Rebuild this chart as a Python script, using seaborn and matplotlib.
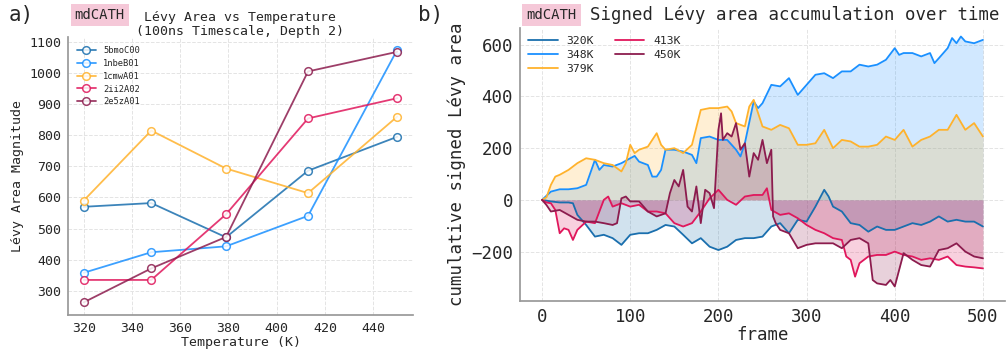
import matplotlib
matplotlib.use("Agg")
import matplotlib.pyplot as plt
import seaborn as sns
import pandas as pd

# ---------------- data: left panel ----------------
temperatures = [320, 348, 379, 413, 450]
domains = ["5bmoC00", "1nbeB01", "1cmwA01", "2ii2A02", "2e5zA01"]
levy_5bmoC00 = [570, 582, 472, 686, 795]
levy_1nbeB01 = [358, 424, 443, 541, 1075]
levy_1cmwA01 = [590, 815, 693, 614, 860]
levy_2ii2A02 = [335, 335, 546, 854, 919]
levy_2e5zA01 = [263, 372, 473, 1005, 1068]

# ---------------- data: right panel ----------------
temp_labels = ["320K", "348K", "379K", "413K", "450K"]
f_320 = [0,10,20,30,35,40,50,60,70,80,90,100,110,120,130,140,150,160,170,180,190,200,210,220,230,240,250,260,270,280,290,300,310,320,325,330,340,350,360,370,380,390,400,410,420,430,440,450,460,470,480,490,500]
v_320 = [0,-6,-10,-10,-13,-58,-97,-142,-135,-148,-174,-135,-129,-129,-116,-97,-103,-135,-168,-148,-181,-194,-181,-155,-148,-148,-142,-103,-90,-129,-77,-84,-26,39,13,-26,-45,-90,-97,-123,-103,-116,-116,-103,-90,-97,-84,-64,-84,-77,-84,-84,-103]
f_348 = [0,10,20,30,40,50,60,65,70,80,90,100,105,110,120,125,130,135,140,150,160,170,175,180,190,200,210,215,220,225,230,240,245,250,260,270,280,290,300,310,320,330,340,350,360,370,380,390,400,405,410,420,430,440,445,450,460,465,470,475,480,490,500]
v_348 = [0,32,41,41,45,58,155,116,135,129,142,161,170,148,135,90,90,116,194,194,187,174,142,239,245,232,232,213,194,168,219,381,355,374,445,439,471,406,445,484,490,471,497,497,523,516,523,542,587,561,568,568,555,568,529,548,587,626,606,632,613,606,619]
f_379 = [0,5,10,15,20,30,40,50,60,70,80,90,95,100,105,110,120,130,135,140,150,160,170,180,190,200,210,215,220,230,235,240,250,260,270,280,290,300,310,320,330,340,350,360,370,380,390,400,410,420,430,440,450,460,470,480,490,500]
v_379 = [0,10,58,90,97,116,142,161,155,142,135,110,142,213,181,194,206,258,213,194,200,181,213,348,355,355,361,342,297,284,361,387,284,271,290,277,213,213,219,271,200,232,226,206,206,213,245,232,271,206,232,245,271,271,329,271,297,245]
f_413 = [0,5,10,15,20,25,30,35,40,50,60,70,75,80,90,100,110,120,130,140,150,160,170,180,190,200,210,220,230,240,250,255,260,270,280,290,300,310,320,330,340,345,350,355,360,370,380,390,400,410,420,430,440,450,460,470,480,490,500]
v_413 = [0,-10,-13,-39,-129,-110,-116,-155,-116,-84,-90,0,13,-26,-13,-26,-19,-45,-45,-52,-90,-103,-90,-45,6,39,0,-19,13,19,19,45,-39,-58,-52,-71,-97,-116,-129,-148,-155,-219,-232,-297,-245,-219,-213,-213,-200,-213,-219,-232,-226,-232,-219,-252,-258,-261,-265]
f_450 = [0,5,10,20,30,40,50,60,70,80,85,90,95,100,110,120,130,140,145,150,155,160,165,170,175,180,185,190,195,200,203,205,210,215,220,225,230,235,240,245,250,255,260,262,265,270,280,290,300,310,320,330,340,350,360,370,375,380,390,395,400,410,420,430,440,450,460,470,480,490,500]
v_450 = [0,-20,-45,-39,-58,-77,-84,-84,-90,-97,-90,6,13,-6,-6,-45,-64,-52,26,77,52,116,-26,-45,52,-90,39,26,-32,271,335,232,258,245,297,194,219,90,181,155,232,142,194,-64,-90,-116,-129,-187,-174,-168,-168,-168,-187,-155,-148,-168,-310,-323,-329,-310,-335,-206,-232,-252,-258,-194,-187,-168,-200,-219,-226]

colors = ["#1a6fae", "#1a90ff", "#ffb22c", "#e0175c", "#8c1c4e"]

sns.set_theme(style="whitegrid")
plt.rcParams["font.family"] = ["DejaVu Sans Mono", "DejaVu Sans"]
plt.rcParams["grid.linestyle"] = "--"
plt.rcParams["grid.color"] = "#e4e4e4"
plt.rcParams["grid.linewidth"] = 0.7

fig = plt.figure(figsize=(10.08, 3.51), dpi=100)
ax1 = fig.add_axes([0.0675, 0.1026, 0.3422, 0.792])
ax2 = fig.add_axes([0.5159, 0.1433, 0.4811, 0.777])

# ---------------- left panel ----------------
left_series = [levy_5bmoC00, levy_1nbeB01, levy_1cmwA01, levy_2ii2A02, levy_2e5zA01]
for name, vals, c in zip(domains, left_series, colors):
    sns.lineplot(x=temperatures, y=vals, ax=ax1, color=c, alpha=0.85, lw=1.3,
                 marker="o", markersize=5.5, markerfacecolor="white",
                 markeredgecolor=c, markeredgewidth=1.1, label=name)
ax1.set_xlabel("Temperature (K)", fontsize=9.5, labelpad=1)
ax1.set_ylabel("Lévy Area Magnitude", fontsize=9.5)
ax1.set_yticks([300, 400, 500, 600, 700, 800, 900, 1000, 1100])
ax1.set_xticks([320, 340, 360, 380, 400, 420, 440])
ax1.tick_params(labelsize=9.5, length=3, color="#999999", pad=2)
ax1.legend(loc="upper left", frameon=False, fontsize=6.3, handlelength=2.2,
           borderaxespad=0.6, labelspacing=0.45)
for s in ["top", "right"]:
    ax1.spines[s].set_visible(False)
for s in ["left", "bottom"]:
    ax1.spines[s].set_color("#999999")
ax1.grid(True)

fig.text(0.021, 0.957, "a)", fontsize=15, ha="center", va="center")
fig.text(0.099, 0.957, "mdCATH", fontsize=10, ha="center", va="center",
         bbox=dict(boxstyle="square,pad=0.3", fc="#f5c8d8", ec="none"))
fig.text(0.238, 0.93, "Lévy Area vs Temperature\n(100ns Timescale, Depth 2)",
         fontsize=9.5, ha="center", va="center", linespacing=1.05)

# ---------------- right panel ----------------
right_f = [f_320, f_348, f_379, f_413, f_450]
right_v = [v_320, v_348, v_379, v_413, v_450]
for lab, fr, vv, c in zip(temp_labels, right_f, right_v, colors):
    sns.lineplot(x=fr, y=vv, ax=ax2, color=c, lw=1.3, label=lab)
    ax2.fill_between(fr, 0, vv, color=c, alpha=0.2, lw=0)
ax2.set_ylim(-390, 665)
ax2.set_xlabel("frame", fontsize=12.5, labelpad=0)
ax2.set_ylabel("cumulative signed Lévy area", fontsize=12.5)
ax2.set_xticks([0, 100, 200, 300, 400, 500])
ax2.set_yticks([-200, 0, 200, 400, 600])
ax2.tick_params(labelsize=12.5, length=3, color="#999999", pad=2)
ax2.legend(loc="upper left", frameon=False, fontsize=8.2, ncol=2,
           handlelength=2.6, borderaxespad=0.3, labelspacing=0.35, columnspacing=1.8)
for s in ["top", "right"]:
    ax2.spines[s].set_visible(False)
for s in ["left", "bottom"]:
    ax2.spines[s].set_color("#999999")
ax2.grid(True)

fig.text(0.427, 0.957, "b)", fontsize=15, ha="center", va="center")
fig.text(0.547, 0.957, "mdCATH", fontsize=10, ha="center", va="center",
         bbox=dict(boxstyle="square,pad=0.3", fc="#f5c8d8", ec="none"))
fig.text(0.585, 0.957, "Signed Lévy area accumulation over time", fontsize=12.5,
         ha="left", va="center")

fig.savefig("out.png", dpi=100)
